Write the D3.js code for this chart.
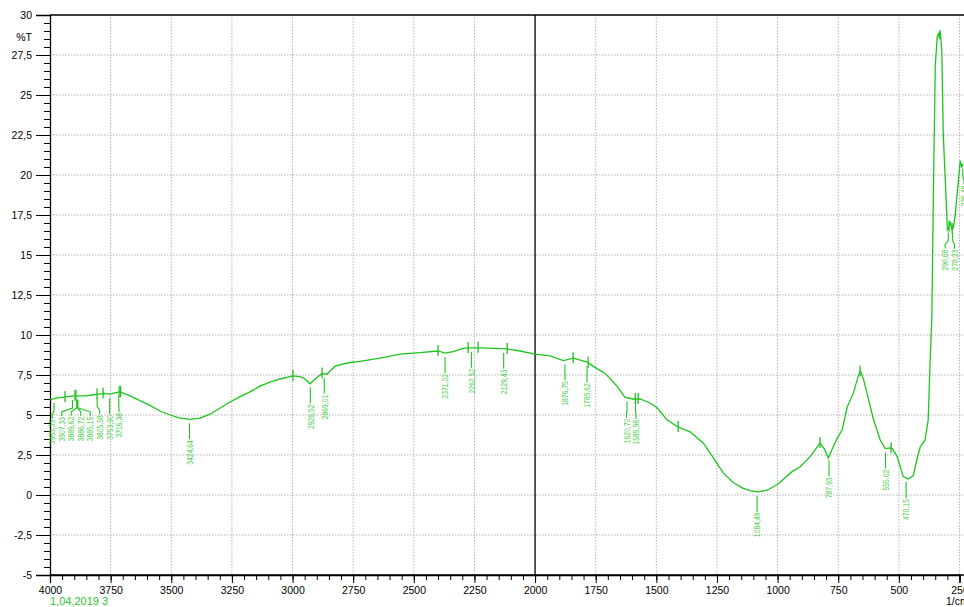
<!DOCTYPE html>
<html><head><meta charset="utf-8">
<script src="https://cdn.jsdelivr.net/npm/d3@7"></script>
<style>
html,body{margin:0;padding:0;background:#fff;overflow:hidden;}
svg{display:block;font-family:"Liberation Sans",Arial,sans-serif;}
</style></head>
<body>
<svg id="chart" width="964" height="607"></svg>
<script>
// ---- data ----
const wavenumbers = [4000,3975,3950,3926,3901,3876,3852,3827,3802,3777,3753,3728,3711,3670,3629,3588,3546,3505,3464,3423,3381,3340,3270,3216,3175,3134,3093,3051,2998,2969,2948,2928,2903,2878,2858,2845,2825,2775,2722,2639,2557,2474,2400,2371,2338,2297,2268,2227,2115,2062,2000,1938,1884,1843,1785,1740,1711,1662,1629,1596,1567,1526,1497,1456,1411,1361,1307,1266,1225,1183,1146,1113,1080,1043,998,940,907,866,825,808,791,771,754,734,713,688,668,659,647,631,606,577,556,536,527,507,482,462,441,421,412,392,379,371,364,358,350,342,336,332,330,323,317,305,300,294,288,281,275,267,247,241,235];
const transmittance = [5.95,6.05,6.1,6.15,6.2,6.2,6.2,6.25,6.3,6.35,6.3,6.4,6.45,6.2,5.9,5.6,5.25,5.0,4.8,4.73,4.8,5.05,5.7,6.15,6.45,6.8,7.05,7.25,7.45,7.4,7.25,6.95,7.3,7.6,7.55,7.75,8.05,8.25,8.35,8.55,8.8,8.9,9.0,8.87,8.96,9.17,9.2,9.2,9.13,9.0,8.81,8.69,8.4,8.55,8.3,7.85,7.6,6.8,6.1,6.0,6.0,5.75,5.45,4.7,4.25,3.95,3.25,2.35,1.4,0.78,0.45,0.28,0.2,0.3,0.69,1.46,1.77,2.4,3.25,2.9,2.31,3.0,3.56,4.06,5.5,6.35,7.4,7.75,7.3,6.35,4.8,3.44,2.9,2.95,2.9,2.4,1.15,1.0,1.2,2.5,3.0,3.44,4.7,8.4,11.1,18.4,26.8,28.6,28.9,28.5,29.06,27.8,22.6,18.4,16.56,16.7,17.1,16.6,16.7,17.6,20.9,20.5,20.7];
const peakLabels = ["3983,35","3907,33","3889,62","3886,72","3885,15","3805,58","3753,90","3716,38","3424,64","2926,52","2869,01","2371,02","2262,52","2129,43","1876,75","1785,62","1620,70","1585,98","1084,49","787,93","555,02","470,15","296,08","278,23","236,48"];
const markerWn = [3938,3897,3893,3806,3781,3715,3709,2998,2878,2400,2276,2235,2115,1843,1781,1587,1575,1410,825,660,532,293,280];
const xTicks = [4000,3750,3500,3250,3000,2750,2500,2250,2000,1750,1500,1250,1000,750,500,250];
const xMinorTicks = d3.range(4000,249,-50);
const yTicks = [-5,-2.5,0,2.5,5,7.5,10,12.5,15,17.5,20,22.5,25,27.5,30];
const yMinorTicks = d3.range(-5,30.01,0.5);
const sampleName = "1,04,2019 3";
const yUnit = "%T";
const xUnit = "1/cm";

// ---- scales ----
const svg = d3.select("#chart");
const x = d3.scaleLinear().domain([4000,250]).range([50,959.5]);
const y = d3.scaleLinear().domain([-5,30]).range([575,15]);
const green = "#1ec41e", labelGreen = "#4ccf4c";
const fmt = d => String(d).replace(".", ",");

// grid
const grid = svg.append("g");
grid.selectAll("line.v").data(xTicks.filter(d => d !== 4000 && d !== 2000)).join("line")
  .attr("x1", d => x(d)).attr("x2", d => x(d)).attr("y1", y(30)).attr("y2", y(-5))
  .attr("stroke", "#b4b4b4").attr("stroke-dasharray", "1.5,1.5");
grid.selectAll("line.h").data(yTicks.filter(d => d !== -5 && d !== 30)).join("line")
  .attr("x1", x(4000)).attr("x2", 964).attr("y1", d => y(d)).attr("y2", d => y(d))
  .attr("stroke", "#b4b4b4").attr("stroke-dasharray", "1.5,1.5");

// black top line & 2000 line
svg.append("line").attr("x1", x(4000)).attr("x2", 964).attr("y1", y(30)).attr("y2", y(30)).attr("stroke", "#000").attr("stroke-width", 1.3);
svg.append("line").attr("x1", x(2000)).attr("x2", x(2000)).attr("y1", y(30)).attr("y2", y(-5)).attr("stroke", "#000").attr("stroke-width", 1.3);

// axes
const axFont = g => g.selectAll("text").attr("font-size", "10.5px").attr("fill", "#000").attr("font-family", "'Liberation Sans',Arial,sans-serif");
const yAx = svg.append("g").attr("transform", `translate(${x(4000)},0)`)
  .call(d3.axisLeft(y).tickValues(yTicks).tickSize(14).tickPadding(4).tickFormat(fmt));
yAx.call(axFont);
svg.append("g").attr("transform", `translate(${x(4000)},0)`)
  .call(d3.axisLeft(y).tickValues(yMinorTicks).tickSize(6).tickFormat(""))
  .select(".domain").remove();
const xAx = svg.append("g").attr("transform", `translate(0,${y(-5)})`)
  .call(d3.axisBottom(x).tickValues(xTicks).tickSize(8).tickPadding(4).tickFormat(d => d));
xAx.call(axFont);
svg.append("g").attr("transform", `translate(0,${y(-5)})`)
  .call(d3.axisBottom(x).tickValues(xMinorTicks).tickSize(5).tickFormat(""))
  .select(".domain").remove();
svg.selectAll(".domain").attr("stroke-width", 1.3);
svg.append("line").attr("x1", x(4000)).attr("x2", 964).attr("y1", y(-5)).attr("y2", y(-5)).attr("stroke", "#000").attr("stroke-width", 1.3);

// units
svg.append("text").attr("x", 32).attr("y", 41).attr("text-anchor", "end").attr("font-size", "10.5px").text(yUnit);
svg.append("text").attr("x", 946).attr("y", 605).attr("font-size", "10.5px").text(xUnit);
svg.append("text").attr("x", 50).attr("y", 605).attr("font-size", "11px").attr("fill", "#2ec52e").text(sampleName);

// curve
const pts = wavenumbers.map((w, i) => [w, transmittance[i]]);
svg.append("path").datum(pts)
  .attr("d", d3.line().x(d => x(d[0])).y(d => y(d[1])))
  .attr("fill", "none").attr("stroke", green).attr("stroke-width", 1.3);

const asc = pts.slice().sort((a, b) => a[0] - b[0]);
function curveAt(w) {
  const i = d3.bisector(d => d[0]).left(asc, w);
  if (i <= 0) return asc[0][1];
  if (i >= asc.length) return asc[asc.length - 1][1];
  const a = asc[i - 1], b = asc[i];
  return a[1] + (b[1] - a[1]) * (w - a[0]) / (b[0] - a[0]);
}

// markers on curve
svg.append("g").selectAll("line").data(markerWn).join("line")
  .attr("x1", d => x(d)).attr("x2", d => x(d))
  .attr("y1", d => y(curveAt(d)) - 6).attr("y2", d => y(curveAt(d)) + 5)
  .attr("stroke", green).attr("stroke-width", 1.3);

// peak labels with spreading
const peaks = peakLabels.map(s => {
  const w = parseFloat(s.replace(",", "."));
  return { s, w, px: x(w), cy: y(curveAt(w)) };
}).sort((a, b) => a.px - b.px);
const gap = 9.5;
let groups = peaks.map(p => ({ items: [p], pos: p.px }));
let changed = true;
while (changed) {
  changed = false;
  for (let i = 0; i < groups.length - 1; i++) {
    const g1 = groups[i], g2 = groups[i + 1];
    const end1 = g1.pos + (g1.items.length - 1) * gap / 2;
    const start2 = g2.pos - (g2.items.length - 1) * gap / 2;
    if (start2 - end1 < gap) {
      const items = g1.items.concat(g2.items);
      groups.splice(i, 2, { items, pos: d3.mean(items, d => d.px) });
      changed = true; break;
    }
  }
}
groups.forEach(g => g.items.forEach((p, k) => { p.tx = g.pos + (k - (g.items.length - 1) / 2) * gap; }));

const lab = svg.append("g");
peaks.forEach(p => {
  const top = p.cy + 20;
  lab.append("path")
    .attr("d", `M${p.px},${p.cy + 4}L${p.px},${p.cy + 12}L${p.tx},${p.cy + 16}L${p.tx},${top}`)
    .attr("fill", "none").attr("stroke", green).attr("stroke-width", 1.1);
  lab.append("text")
    .attr("transform", `translate(${p.tx + 3.2},${top + 1}) rotate(-90)`)
    .attr("text-anchor", "end")
    .attr("font-size", "9px")
    .attr("fill", labelGreen)
    .attr("textLength", p.s.length * 3.5)
    .attr("lengthAdjust", "spacingAndGlyphs")
    .text(p.s);
});
</script>
</body></html>
